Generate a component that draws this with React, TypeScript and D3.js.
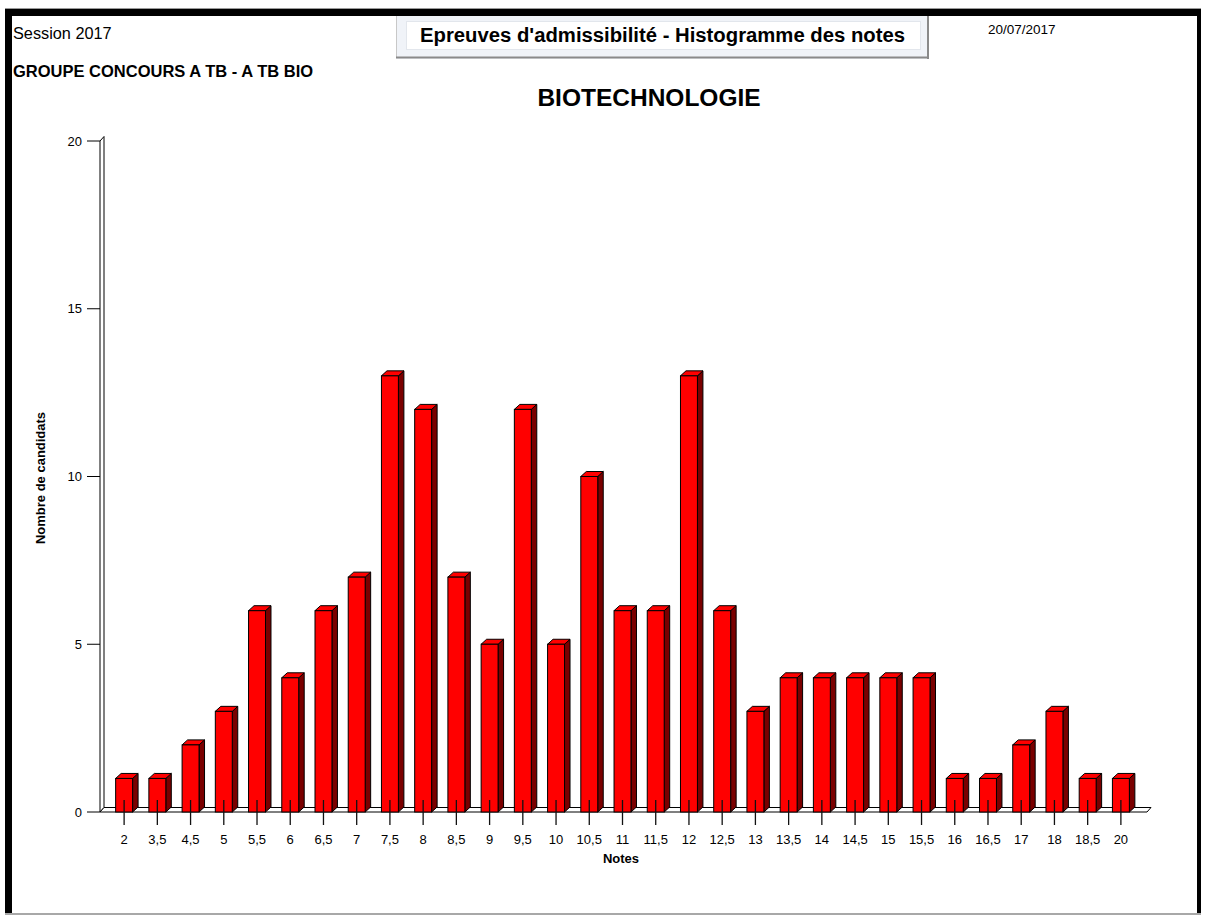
import React from "react";
import * as d3 from "d3";

const notes: string[] = ["2","3,5","4,5","5","5,5","6","6,5","7","7,5","8","8,5","9","9,5","10","10,5","11","11,5","12","12,5","13","13,5","14","14,5","15","15,5","16","16,5","17","18","18,5","20"];
const counts: number[] = [1,1,2,3,6,4,6,7,13,12,7,5,12,5,10,6,6,13,6,3,4,4,4,4,4,1,1,2,3,1,1];
const yTicks: number[] = [0,5,10,15,20];

const FONT = "'Liberation Sans', Arial, sans-serif";

export default function App() {
  const W = 1205, H = 915;
  const x = d3.scaleBand<string>().domain(notes).range([107.5, 1137.5]).padding(0);
  const y = d3.scaleLinear().domain([0, 20]).range([812, 141]);
  const step = x.step();
  const bw = step * 0.51;
  const dx = 5.5, dy = 5;
  const wdx = 4, wdy = 4.5;
  const y0 = y(0);
  const xLeft = 100, xRight = 1147;

  return (
    <div style={{ position: "fixed", left: 0, top: 0, width: W, height: H, background: "#fff" }}>
      <svg width={W} height={H} style={{ display: "block", fontFamily: FONT }}>
        {/* frame */}
        <rect x={5} y={8} width={1196} height={1} fill="#9a9a9a" />
        <rect x={5} y={9} width={1196} height={7} fill="#000" />
        <rect x={5} y={9} width={7} height={904} fill="#000" />
        <rect x={1197} y={9} width={4} height={904} fill="#000" />
        <rect x={5} y={913} width={1196} height={2} fill="#a8a8a8" />

        {/* title box */}
        <rect x={396} y={16} width={533} height={43} fill="#f0f3f8" />
        <line x1={396.5} y1={16} x2={396.5} y2={58} stroke="#c8c8c8" />
        <line x1={396} y1={57.5} x2={929} y2={57.5} stroke="#8a8a8a" strokeWidth={2} />
        <line x1={928} y1={16} x2={928} y2={59} stroke="#8a8a8a" strokeWidth={2} />
        <rect x={406.5} y={21.5} width={514} height={28} fill="#fff" stroke="#e2e6ec" />
        <text x={662.5} y={42} textAnchor="middle" fontSize={20.3} fontWeight="bold" fill="#000">Epreuves d'admissibilité - Histogramme des notes</text>

        <text x={13} y={39} fontSize={16.3} fill="#000">Session 2017</text>
        <text x={13} y={77} fontSize={16.5} fontWeight="bold" fill="#000">GROUPE CONCOURS A TB - A TB BIO</text>
        <text x={988} y={34} fontSize={13.5} fill="#000">20/07/2017</text>
        <text x={649} y={106} textAnchor="middle" fontSize={24.5} fontWeight="bold" fill="#000">BIOTECHNOLOGIE</text>

        {/* wall */}
        <polygon points={`${xLeft},${y(20)} ${xLeft + wdx},${y(20) - wdy} ${xLeft + wdx},${y0 - wdy} ${xLeft},${y0}`} fill="#fff" stroke="#000" strokeWidth={1} />
        {/* floor */}
        <polygon points={`${xLeft},${y0} ${xRight},${y0} ${xRight + wdx},${y0 - wdy} ${xLeft + wdx},${y0 - wdy}`} fill="#fff" stroke="#000" strokeWidth={1} />

        {/* y axis ticks */}
        {yTicks.map((t) => (
          <g key={t}>
            <line x1={87} x2={xLeft} y1={y(t)} y2={y(t)} stroke="#000" />
            <text x={82} y={y(t)} dy="0.35em" textAnchor="end" fontSize={13} fill="#000">{t}</text>
          </g>
        ))}

        {/* bars */}
        {notes.map((n, i) => {
          const c = (x(n) as number) + step / 2;
          const x0 = c - bw / 2, x1 = c + bw / 2;
          const yt = y(counts[i]);
          return (
            <g key={n}>
              <polygon points={`${x1},${yt} ${x1 + dx},${yt - dy} ${x1 + dx},${y0 - dy} ${x1},${y0}`} fill="#7a0000" stroke="#000" strokeWidth={1} strokeLinejoin="round" />
              <polygon points={`${x0},${yt} ${x0 + dx},${yt - dy} ${x1 + dx},${yt - dy} ${x1},${yt}`} fill="#ff0000" stroke="#000" strokeWidth={1} strokeLinejoin="round" />
              <rect x={x0} y={yt} width={bw} height={y0 - yt} fill="#ff0000" stroke="#000" strokeWidth={1} />
              <line x1={c} x2={c} y1={800} y2={825} stroke="#111" strokeWidth={1.3} />
              <text x={c} y={844} textAnchor="middle" fontSize={13} fill="#000">{n}</text>
            </g>
          );
        })}

        <text x={621} y={863} textAnchor="middle" fontSize={13} fontWeight="bold" fill="#000">Notes</text>
        <text transform={`translate(45,478) rotate(-90)`} textAnchor="middle" fontSize={13} fontWeight="bold" fill="#000">Nombre de candidats</text>
      </svg>
    </div>
  );
}
